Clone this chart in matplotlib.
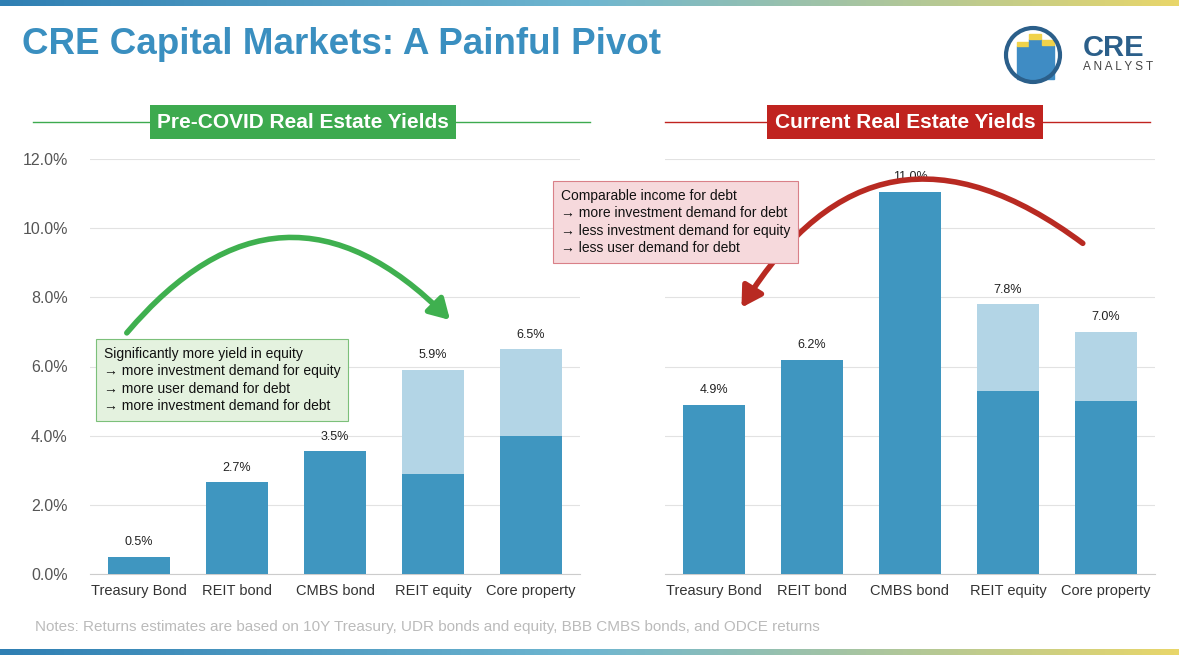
import numpy as np
import matplotlib.pyplot as plt
from matplotlib.patches import FancyArrowPatch, Rectangle, Circle
from matplotlib.colors import LinearSegmentedColormap

plt.rcParams['font.family'] = 'Liberation Sans'

categories = ['Treasury Bond', 'REIT bond', 'CMBS bond', 'REIT equity', 'Core property']
pre_base = [0.5, 2.65, 3.55, 2.9, 4.0]
pre_top = [0, 0, 0, 3.0, 2.5]
pre_labels = ['0.5%', '2.7%', '3.5%', '5.9%', '6.5%']
cur_base = [4.9, 6.2, 11.05, 5.3, 5.0]
cur_top = [0, 0, 0, 2.5, 2.0]
cur_labels = ['4.9%', '6.2%', '11.0%', '7.8%', '7.0%']

DARK = '#3f96c0'
LIGHT = '#b3d5e6'
W, H = 1179, 655

fig = plt.figure(figsize=(W / 100, H / 100), dpi=100)
fig.patch.set_facecolor('white')


def fx(px):
    return px / W


def fy(py):
    return 1 - py / H


# gradient bars at top and bottom
grad = np.linspace(0, 1, 256).reshape(1, -1)
cmap = LinearSegmentedColormap.from_list('g', ['#2f7fb3', '#6fb6d0', '#e8d66a'])
for y0 in [fy(6), fy(655)]:
    gax = fig.add_axes([0, y0, 1, 6 / H])
    gax.imshow(grad, aspect='auto', cmap=cmap)
    gax.axis('off')

fig.text(fx(22), fy(44), 'CRE Capital Markets: A Painful Pivot', fontsize=26.5,
         fontweight='bold', color='#3a8fc0', va='center')

# logo
lax = fig.add_axes([fx(1003), fy(85), fx(60), 60 / H])
lax.set_xlim(-1, 1)
lax.set_ylim(-1, 1)
lax.set_aspect('equal')
lax.axis('off')
for bx, bh in [(-0.55, 0.3), (-0.15, 0.55), (0.3, 0.35)]:
    lax.add_patch(Rectangle((bx, -0.8), 0.4, bh + 0.8, color='#3f8cc4'))
    lax.add_patch(Rectangle((bx, bh), 0.4, 0.15, color='#f0d24a'))
lax.add_patch(Circle((0, 0), 0.9, fill=False, edgecolor='#2b5f8a', lw=3))
fig.text(fx(1083), fy(48), 'CRE', fontsize=21, fontweight='bold', color='#2b5f8a', va='center')
fig.text(fx(1083), fy(67), 'A N A L Y S T', fontsize=8.5, color='#444444', va='center')


def panel(left, base, top, labels):
    ax = fig.add_axes([fx(left), fy(574), fx(490), 415 / H])
    x = np.arange(len(categories))
    ax.bar(x, base, width=0.63, color=DARK, zorder=3)
    ax.bar(x, top, bottom=base, width=0.63, color=LIGHT, zorder=3)
    tot = np.array(base) + np.array(top)
    for xi, t, lab in zip(x, tot, labels):
        ax.text(xi, t + 0.25, lab, ha='center', va='bottom', fontsize=9, color='#222222')
    ax.set_xlim(-0.5, 4.5)
    ax.set_ylim(0, 12)
    ax.set_yticks(np.arange(0, 13, 2))
    ax.yaxis.grid(True, color='#e2e2e2', lw=0.8, zorder=0)
    ax.set_xticks(x)
    ax.set_xticklabels(categories, fontsize=10.5, color='#333333')
    for s in ['top', 'right', 'left']:
        ax.spines[s].set_visible(False)
    ax.spines['bottom'].set_color('#cccccc')
    ax.tick_params(length=0, pad=7)
    return ax


ax1 = panel(90, pre_base, pre_top, pre_labels)
ax1.set_yticklabels(['%.1f%%' % v for v in np.arange(0, 13, 2)], fontsize=11.5, color='#555555')
ax1.tick_params(axis='y', pad=16)
ax2 = panel(665, cur_base, cur_top, cur_labels)
ax2.set_yticklabels([])

# section headers
for x0, x1, cx, label, col in [(33, 590, 303, 'Pre-COVID Real Estate Yields', '#3daa4f'),
                               (665, 1150, 905, 'Current Real Estate Yields', '#c0231f')]:
    fig.add_artist(plt.Line2D([fx(x0), fx(x1)], [fy(122), fy(122)], color=col, lw=1))
    fig.text(fx(cx), fy(122), label, ha='center', va='center', fontsize=15, fontweight='bold',
             color='white', bbox=dict(boxstyle='square,pad=0.35', facecolor=col, edgecolor='none'))

# annotation boxes
fig.text(fx(104), fy(380),
         'Significantly more yield in equity\n\u2192 more investment demand for equity\n'
         '\u2192 more user demand for debt\n\u2192 more investment demand for debt',
         fontsize=10, va='center', ha='left', linespacing=1.3, color='#111111', zorder=5,
         bbox=dict(boxstyle='square,pad=0.55', facecolor='#e4f2df', edgecolor='#7cc07a', lw=0.8))
fig.text(fx(561), fy(222),
         'Comparable income for debt\n\u2192 more investment demand for debt\n'
         '\u2192 less investment demand for equity\n\u2192 less user demand for debt',
         fontsize=10, va='center', ha='left', linespacing=1.3, color='#111111', zorder=5,
         bbox=dict(boxstyle='square,pad=0.55', facecolor='#f6d9dc', edgecolor='#d98088', lw=0.8))

# curved arrows (figure pixels, origin bottom-left)
fig.patches.append(FancyArrowPatch((125, H - 335), (452, H - 322), transform=None,
                                   connectionstyle='arc3,rad=-0.55', arrowstyle='-|>,head_length=12,head_width=7',
                                   color='#3fb04f', lw=4))
fig.patches.append(FancyArrowPatch((1085, H - 245), (740, H - 310), transform=None,
                                   connectionstyle='arc3,rad=0.55', arrowstyle='-|>,head_length=12,head_width=7',
                                   color='#b82a22', lw=4))

fig.text(fx(35), fy(627), 'Notes: Returns estimates are based on 10Y Treasury, UDR bonds and equity, '
         'BBB CMBS bonds, and ODCE returns', fontsize=11, color='#bbbbbb', va='center')

fig.savefig('out.png', dpi=100)
